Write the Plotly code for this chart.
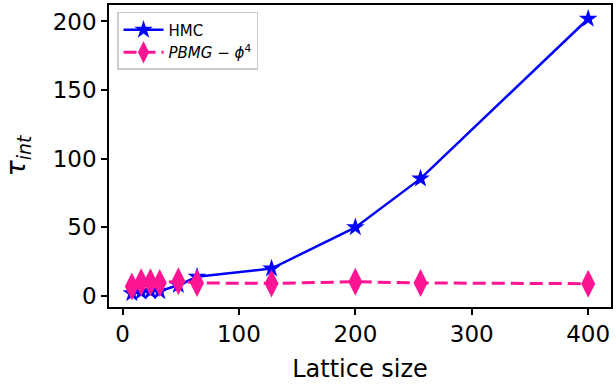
import plotly.graph_objects as go

lattice = [8, 16, 24, 32, 48, 64, 128, 200, 256, 400]
tau_hmc = [2, 3, 3.5, 3.5, 8, 14, 20, 50, 85.5, 202]
tau_pbmg = [7, 10, 10, 9.5, 10.8, 9.5, 9.2, 10.4, 9.5, 9]

x_ticks = [0, 100, 200, 300, 400]
y_ticks = [0, 50, 100, 150, 200]

fig = go.Figure()
fig.add_trace(go.Scatter(
    x=lattice, y=tau_hmc, mode="lines+markers", name="HMC",
    line=dict(color="#0000ff", width=2.5),
    marker=dict(symbol="star", size=14, color="#0000ff"),
))
fig.add_trace(go.Scatter(
    x=lattice, y=tau_pbmg, mode="lines+markers",
    name="<i>PBMG</i> − <i>ϕ</i><sup>4</sup>",
    line=dict(color="#ff1493", width=3, dash="13px,6px"),
    marker=dict(symbol="diamond-tall", size=20, color="#ff1493"),
))

axis_common = dict(
    showgrid=False, zeroline=False, showline=True, linecolor="black",
    linewidth=1.5, mirror=True, ticks="outside", ticklen=6, tickwidth=1.5,
    tickcolor="black", tickfont=dict(family="DejaVu Sans", size=23, color="black"),
)
fig.update_xaxes(range=[-11.6, 419.6], tickvals=x_ticks,
                 title=dict(text="Lattice size", standoff=14,
                            font=dict(family="DejaVu Sans", size=24, color="black")),
                 **axis_common)
fig.update_yaxes(range=[-8, 212], tickvals=y_ticks,
                 title=dict(text="<i>τ</i><sub><i>int</i></sub>", standoff=20,
                            font=dict(family="DejaVu Sans", size=27, color="black")),
                 **axis_common)

fig.update_layout(
    width=616, height=387, plot_bgcolor="white", paper_bgcolor="white",
    margin=dict(l=109, r=3, t=3, b=80),
    legend=dict(x=0.016, y=0.977, xanchor="left", yanchor="top",
                bgcolor="rgba(255,255,255,0.8)", bordercolor="#cccccc", borderwidth=1.5,
                font=dict(family="DejaVu Sans", size=15, color="black"),
                itemwidth=40),
    showlegend=True,
)

fig.write_html("out.html")
